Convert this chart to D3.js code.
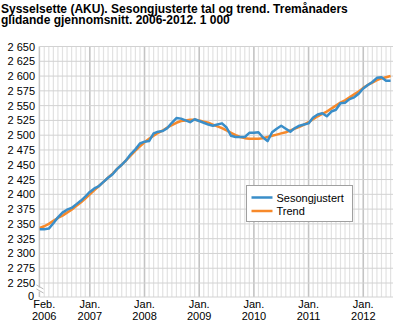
<!DOCTYPE html>
<html>
<head>
<meta charset="utf-8">
<script src="https://cdn.jsdelivr.net/npm/d3@7"></script>
<style>
  html, body { margin: 0; padding: 0; background: #fff; }
  svg { display: block; font-family: "Liberation Sans", Arial, sans-serif; }
</style>
</head>
<body>
<svg id="chart" width="393" height="325"></svg>
<script>
// Employment (LFS), seasonally adjusted and trend, thousands, Feb 2006 – Jul 2012
const titleLines = [
  "Sysselsette (AKU).  Sesongjusterte tal og trend. Tremånaders",
  "glidande gjennomsnitt. 2006-2012. 1 000"
];

const startYear = 2006, startMonth = 1; // February (0-based)

const seasonal = [
  2341, 2341, 2342, 2351, 2361, 2369, 2374, 2377, 2383, 2389, 2396,
  2404, 2410, 2414, 2421, 2428, 2434, 2443, 2450, 2458, 2468, 2476, 2486,
  2489, 2490, 2503, 2506, 2507, 2512, 2521, 2529, 2528, 2525, 2522, 2527,
  2524, 2521, 2518, 2516, 2518, 2520, 2513, 2499, 2497, 2497, 2497, 2504,
  2504, 2505, 2496, 2490, 2505, 2511, 2516, 2511, 2506, 2512, 2516, 2518,
  2520, 2530, 2535, 2537, 2532, 2540, 2543, 2554, 2555, 2561, 2564, 2570,
  2579, 2585, 2590, 2597, 2598, 2592, 2592
];

const trend = [
  2343, 2346, 2350, 2355, 2360, 2364, 2369, 2374, 2380, 2386, 2393,
  2400, 2407, 2414, 2421, 2428, 2435, 2443, 2450, 2458, 2466, 2474, 2481,
  2488, 2494, 2499, 2504, 2508, 2513, 2517, 2521, 2524, 2525, 2526, 2526,
  2525, 2523, 2521, 2518, 2515, 2512, 2508, 2504, 2500, 2497, 2495, 2494,
  2494, 2494, 2495, 2497, 2499, 2501, 2503, 2505, 2508, 2511, 2514, 2518,
  2522, 2527, 2532, 2536, 2540, 2545, 2550, 2555, 2559, 2564, 2569, 2574,
  2580, 2585, 2589, 2593, 2596, 2598, 2600
];

const yTicks = [2250, 2275, 2300, 2325, 2350, 2375, 2400, 2425, 2450, 2475,
                2500, 2525, 2550, 2575, 2600, 2625, 2650];
const seriesNames = ["Sesongjustert", "Trend"];
const seriesColors = ["#3a8ec9", "#f7892a"];
const monthAbbr = ["Jan.", "Feb.", "Mar.", "Apr.", "Mai", "Jun.", "Jul.", "Aug.", "Sep.", "Okt.", "Nov.", "Des."];

const months = seasonal.map((_, i) => {
  const m = startMonth + i;
  return { i, year: startYear + Math.floor(m / 12), month: m % 12 };
});

const svg = d3.select("#chart");
const margin = { left: 39.7, top: 46.5, right: 2.4 };
const plotBottom = 283;      // 2 250
const axisBottom = 297;      // 0 after the axis break
const W = 393;

const x = d3.scaleLinear()
  .domain([0, seasonal.length - 1])
  .range([margin.left, W - margin.right]);
const y = d3.scaleLinear()
  .domain([2250, 2650])
  .range([plotBottom, margin.top]);

// title
svg.append("g").selectAll("text")
  .data(titleLines).join("text")
  .attr("x", 1).attr("y", (d, i) => 12.5 + i * 11)
  .attr("font-size", 12).attr("font-weight", "bold").attr("fill", "#000")
  .text(d => d);

// vertical monthly grid
const grid = svg.append("g");
grid.selectAll("line.v")
  .data(months).join("line")
  .attr("class", "v")
  .attr("x1", d => x(d.i)).attr("x2", d => x(d.i))
  .attr("y1", margin.top).attr("y2", axisBottom)
  .attr("stroke", d => d.month === 0 ? "#c4c4c4" : "#e2e2e2")
  .attr("stroke-width", d => d.month === 0 ? 1.6 : 1.2);

// horizontal grid
grid.selectAll("line.h")
  .data(yTicks).join("line")
  .attr("class", "h")
  .attr("x1", margin.left).attr("x2", W)
  .attr("y1", d => y(d)).attr("y2", d => y(d))
  .attr("stroke", "#d2d2d2").attr("stroke-width", 1);
grid.append("line")
  .attr("x1", margin.left).attr("x2", W)
  .attr("y1", axisBottom).attr("y2", axisBottom)
  .attr("stroke", "#d2d2d2");

// y axis line with break marker
svg.append("line")
  .attr("x1", margin.left - 0.5).attr("x2", margin.left - 0.5)
  .attr("y1", margin.top).attr("y2", axisBottom)
  .attr("stroke", "#b8b8b8");
const brk = svg.append("g");
brk.append("rect").attr("x", 36.5).attr("y", 287.5).attr("width", 7).attr("height", 4).attr("fill", "#fff");
[287, 291].forEach(v => {
  brk.append("line")
    .attr("x1", 36.5).attr("x2", 43.5).attr("y1", v - 2).attr("y2", v + 2)
    .attr("stroke", "#b8b8b8").attr("stroke-width", 1);
});

// y tick labels
const fmt = v => d3.format(",")(v).replace(/,/g, " ");
svg.append("g").selectAll("text")
  .data(yTicks).join("text")
  .attr("x", 35).attr("y", d => y(d) + 4)
  .attr("text-anchor", "end").attr("font-size", 11).attr("fill", "#000")
  .text(fmt);
svg.append("text")
  .attr("x", 34).attr("y", axisBottom + 2.5)
  .attr("text-anchor", "end").attr("font-size", 11).attr("fill", "#000")
  .text("0");

// x tick labels: first month and every January
const xLabels = months.filter(d => d.i === 0 || d.month === 0);
const xl = svg.append("g").selectAll("g")
  .data(xLabels).join("g")
  .attr("transform", d => `translate(${x(d.i) + (d.i === 0 ? 4.5 : 0)},0)`);
xl.append("text").attr("y", 308).attr("text-anchor", "middle")
  .attr("font-size", 11).text(d => monthAbbr[d.month]);
xl.append("text").attr("y", 320).attr("text-anchor", "middle")
  .attr("font-size", 11).text(d => d.year);

// lines
const line = d3.line().x((d, i) => x(i)).y(d => y(d));
svg.append("path").datum(trend)
  .attr("d", line).attr("fill", "none")
  .attr("stroke", seriesColors[1]).attr("stroke-width", 2.5)
  .attr("stroke-linejoin", "round");
svg.append("path").datum(seasonal)
  .attr("d", line).attr("fill", "none")
  .attr("stroke", seriesColors[0]).attr("stroke-width", 2.5)
  .attr("stroke-linejoin", "round");

// legend
const lg = svg.append("g").attr("transform", "translate(246.5,185.5)");
lg.append("rect").attr("width", 106).attr("height", 36)
  .attr("fill", "#fff").attr("stroke", "#a0a0a0").attr("stroke-width", 1);
const items = lg.selectAll("g").data(seriesNames).join("g")
  .attr("transform", (d, i) => `translate(0,${12 + i * 13.5})`);
items.append("line").attr("x1", 5).attr("x2", 26)
  .attr("stroke", (d, i) => seriesColors[i]).attr("stroke-width", 2.5);
items.append("text").attr("x", 30).attr("y", 4)
  .attr("font-size", 11).text(d => d);
</script>
</body>
</html>
